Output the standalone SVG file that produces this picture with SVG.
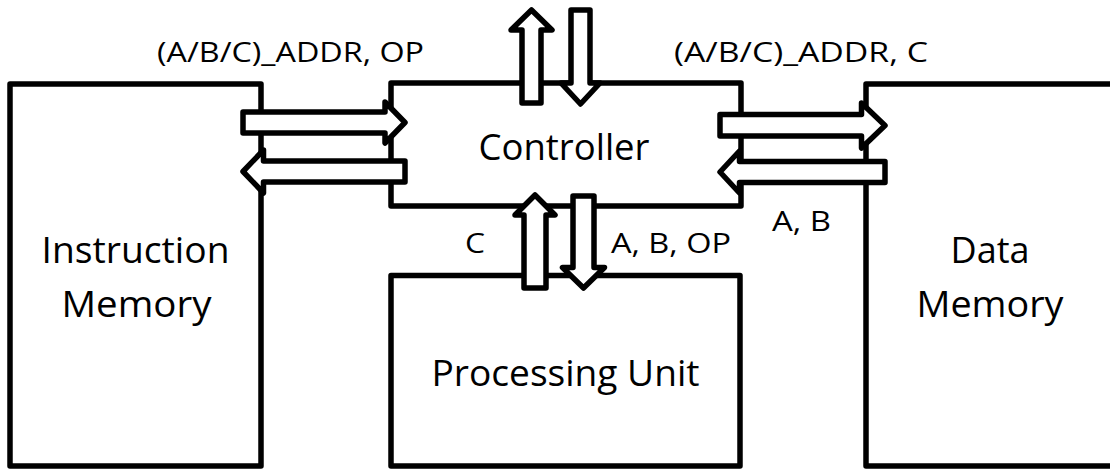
<svg xmlns="http://www.w3.org/2000/svg" width="1110" height="470" viewBox="0 0 1110 470">
<style>
.box{fill:#fff;stroke:#000;stroke-width:5.5;stroke-linejoin:round}
.arr{fill:#fff;stroke:#000;stroke-width:5.5;stroke-linejoin:round}
.big{font-family:"Open Sans","Noto Sans",sans-serif;font-size:37px;fill:#000;text-anchor:middle}
.small{font-family:"Open Sans","Noto Sans",sans-serif;font-size:28px;fill:#000;text-anchor:middle}
</style>
<rect width="1110" height="470" fill="#fff"/>
<g id="instruction-memory">
<rect class="box" x="10" y="84" width="251" height="382"/>
<text class="big" x="135.5" y="263" textLength="188" lengthAdjust="spacingAndGlyphs">Instruction</text>
<text class="big" x="136.5" y="317" textLength="150" lengthAdjust="spacingAndGlyphs">Memory</text>
</g>
<g id="data-memory">
<rect class="box" x="866" y="84" width="260" height="382"/>
<text class="big" x="990" y="263" textLength="79" lengthAdjust="spacingAndGlyphs">Data</text>
<text class="big" x="990" y="317" textLength="147" lengthAdjust="spacingAndGlyphs">Memory</text>
</g>
<g id="controller">
<rect class="box" x="391" y="83" width="350" height="123"/>
<text class="big" x="564" y="159.5" textLength="171" lengthAdjust="spacingAndGlyphs">Controller</text>
</g>
<g id="processing-unit">
<rect class="box" x="391" y="275.5" width="349" height="190.5"/>
<text class="big" x="565.5" y="386" textLength="268" lengthAdjust="spacingAndGlyphs">Processing Unit</text>
</g>
<g id="connectors">
<polygon class="arr" points="243,112 385,112 385,102 405,122.5 385,143 385,133 243,133"/>
<polygon class="arr" points="405,161 263.5,161 263.5,150 243,171.5 263.5,193 263.5,182 405,182"/>
<polygon class="arr" points="720,114.5 861.5,114.5 861.5,103 885,125.5 861.5,148 861.5,136 720,136"/>
<polygon class="arr" points="885,161.5 739.5,161.5 739.5,151 720,172 739.5,193 739.5,182.5 885,182.5"/>
<polygon class="arr" points="522,103 522,30 511,30 531.5,10 552,30 541,30 541,103"/>
<polygon class="arr" points="571,10 590,10 590,83 600,83 580.5,104 561,83 571,83"/>
<polygon class="arr" points="524,288 524,215 515,215 535,195 555,215 546,215 546,288"/>
<polygon class="arr" points="573,196 594,196 594,267.5 604.5,267.5 583.5,288 562.5,267.5 573,267.5"/>
<text class="small" x="290.5" y="62" textLength="267" lengthAdjust="spacingAndGlyphs">(A/B/C)_ADDR, OP</text>
<text class="small" x="801" y="62" textLength="254" lengthAdjust="spacingAndGlyphs">(A/B/C)_ADDR, C</text>
<text class="small" x="475" y="253" textLength="20" lengthAdjust="spacingAndGlyphs">C</text>
<text class="small" x="671" y="253" textLength="120" lengthAdjust="spacingAndGlyphs">A, B, OP</text>
<text class="small" x="801.5" y="231" textLength="59" lengthAdjust="spacingAndGlyphs">A, B</text>
</g>
</svg>
